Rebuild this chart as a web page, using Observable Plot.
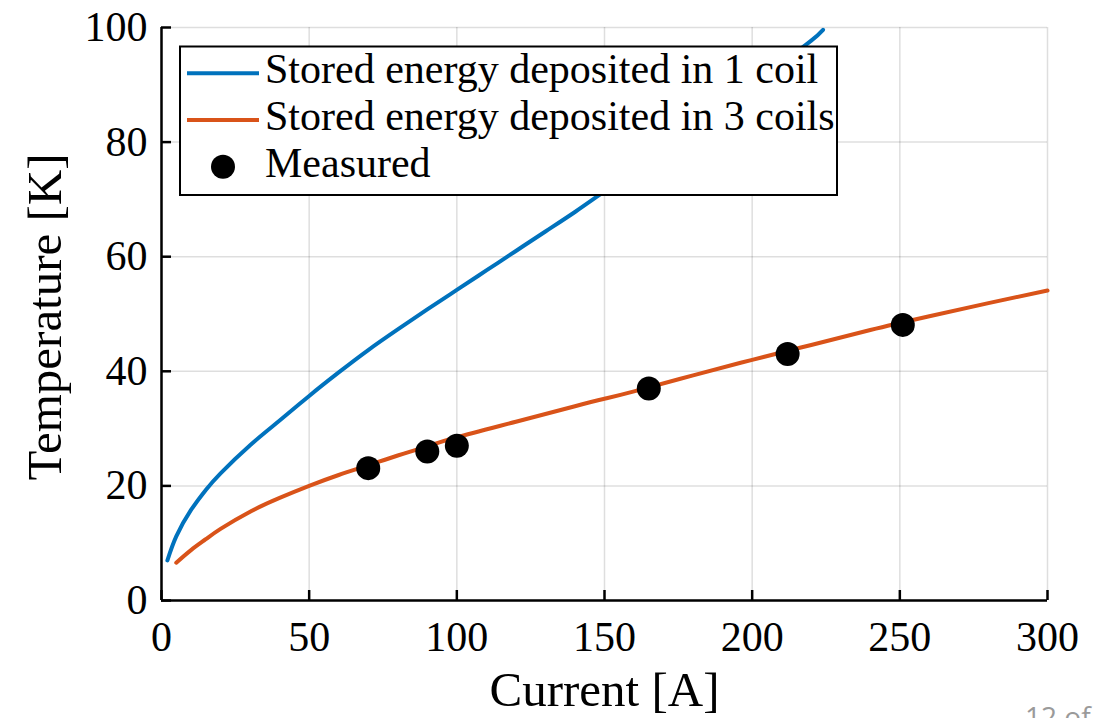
<!DOCTYPE html>
<html>
<head>
<meta charset="utf-8">
<script src="https://cdn.jsdelivr.net/npm/d3@7"></script>
<script src="https://cdn.jsdelivr.net/npm/@observablehq/plot@0.6"></script>
<style>
  html, body { margin: 0; padding: 0; background: #fff; overflow: hidden; }
  #wrap { position: relative; width: 1102px; height: 718px; overflow: hidden; }
  #page { position: absolute; left: 1025px; top: 702px; font-family: "Open Sans", sans-serif; font-size: 28px; line-height: 1; color: #9a9a9a; white-space: nowrap; }
</style>
</head>
<body>
<div id="wrap"><div id="chart"></div><div id="page">12 of</div></div>
<script>
// ---- data ----
const xTicks = [0, 50, 100, 150, 200, 250, 300];
const yTicks = [0, 20, 40, 60, 80, 100];

const oneCoilI = [2, 5, 10, 15, 20, 30, 40, 50, 60, 70, 80, 90, 100, 110, 120, 130, 140, 150, 160, 170, 180, 190, 200, 210, 220, 224];
const oneCoilT = [7.0, 11.2, 15.8, 19.3, 22.2, 27.1, 31.4, 35.7, 39.8, 43.7, 47.3, 50.8, 54.2, 57.6, 61.0, 64.4, 67.8, 71.4, 75.0, 78.7, 82.5, 86.2, 90.0, 93.8, 97.7, 99.6];

const threeCoilI = [5, 10, 15, 20, 30, 40, 50, 60, 70, 80, 90, 100, 120, 140, 150, 160, 180, 200, 220, 240, 260, 280, 300];
const threeCoilT = [6.6, 8.8, 10.7, 12.5, 15.5, 17.9, 20.0, 21.9, 23.6, 25.3, 26.9, 28.5, 31.2, 33.9, 35.2, 36.5, 39.3, 42.0, 44.6, 47.2, 49.6, 51.9, 54.1];

const measuredI = [70, 90, 100, 165, 212, 251];
const measuredT = [23.1, 26.0, 27.0, 37.0, 43.0, 48.1];

const seriesNames = ["Stored energy deposited in 1 coil", "Stored energy deposited in 3 coils", "Measured"];
const colors = ["#0072BD", "#D95319", "#000000"];

const oneCoil = oneCoilI.map((x, i) => ({x, y: oneCoilT[i]}));
const threeCoil = threeCoilI.map((x, i) => ({x, y: threeCoilT[i]}));
const measured = measuredI.map((x, i) => ({x, y: measuredT[i]}));

const FONT = "'Liberation Serif', 'Times New Roman', serif";
const FS = 42;
const LFS = 49;

const chart = Plot.plot({
  width: 1102,
  height: 718,
  marginLeft: 161,
  marginRight: 55,
  marginTop: 27,
  marginBottom: 118,
  style: {fontFamily: FONT, fontSize: FS + "px", background: "#fff", color: "#000"},
  x: {domain: [0, 300]},
  y: {domain: [0, 100]},
  marks: [
    Plot.gridX(xTicks, {stroke: "#000", strokeOpacity: 0.13, strokeWidth: 1.5}),
    Plot.gridY(yTicks, {stroke: "#000", strokeOpacity: 0.13, strokeWidth: 1.5}),
    Plot.line(oneCoil, {x: "x", y: "y", stroke: colors[0], strokeWidth: 4, curve: "natural"}),
    Plot.line(threeCoil, {x: "x", y: "y", stroke: colors[1], strokeWidth: 4, curve: "natural"}),
    Plot.dot(measured, {x: "x", y: "y", r: 12, fill: colors[2], stroke: null}),
    Plot.axisX(xTicks, {tickSize: 0, tickPadding: 21, fontSize: FS, label: null}),
    Plot.axisY(yTicks, {tickSize: 0, tickPadding: 14, fontSize: FS, label: null}),
    Plot.axisX(xTicks, {tickSize: -10, strokeWidth: 2.5, tickFormat: () => "", label: null}),
    Plot.axisY(yTicks, {tickSize: -10, strokeWidth: 2.5, tickFormat: () => "", label: null}),
    Plot.ruleX([0], {stroke: "#000", strokeWidth: 2.5}),
    Plot.ruleY([0], {stroke: "#000", strokeWidth: 2.5}),
    Plot.text(["Current [A]"], {frameAnchor: "bottom", dy: 90, fontSize: LFS, lineAnchor: "middle", textAnchor: "middle"}),
    Plot.text(["Temperature [K]"], {frameAnchor: "left", dx: -116, dy: 3, rotate: -90, fontSize: LFS, lineAnchor: "middle", textAnchor: "middle"})
  ]
});

document.getElementById("chart").appendChild(chart);

// ---- legend ----
const svg = d3.select(chart);
const lg = svg.append("g").attr("font-family", FONT).attr("font-size", FS).attr("text-anchor", "start");
lg.append("rect").attr("x", 180).attr("y", 46.5).attr("width", 657).attr("height", 148.5)
  .attr("fill", "#fff").attr("stroke", "#000").attr("stroke-width", 2);
const rows = [73.3, 120, 166.7];
seriesNames.forEach((name, i) => {
  const cy = rows[i];
  if (i < 2) {
    lg.append("line").attr("x1", 187).attr("x2", 259).attr("y1", cy).attr("y2", cy)
      .attr("stroke", colors[i]).attr("stroke-width", 4);
  } else {
    lg.append("circle").attr("cx", 223).attr("cy", cy).attr("r", 12).attr("fill", colors[i]);
  }
  lg.append("text").attr("x", 265).attr("y", cy + 10).attr("fill", "#000").attr("text-anchor", "start").text(name);
});
</script>
</body>
</html>
